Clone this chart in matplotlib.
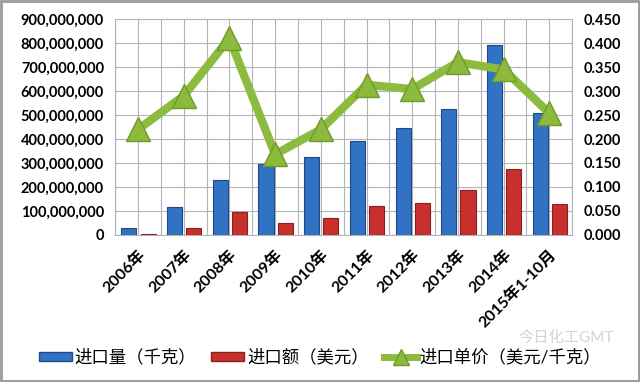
import numpy as np
import matplotlib.pyplot as plt
from matplotlib.ticker import FuncFormatter, MultipleLocator
from matplotlib.lines import Line2D
from matplotlib.patches import Patch

plt.rcParams['font.family'] = ['Lato', 'Noto Sans CJK SC', 'DejaVu Sans']

# === data ===
years = ["2006年", "2007年", "2008年", "2009年", "2010年", "2011年",
         "2012年", "2013年", "2014年", "2015年1-10月"]
qty_kg = [30e6, 118e6, 230e6, 296e6, 327e6, 390e6, 446e6, 525e6, 792e6, 508e6]
value_usd = [3e6, 29e6, 96e6, 50e6, 71e6, 121e6, 133e6, 188e6, 275e6, 129e6]
price = [0.220, 0.290, 0.410, 0.168, 0.220, 0.313, 0.304, 0.360, 0.345, 0.254]

BLUE = "#3272C4"
RED = "#C8302E"
GREEN = "#8CBB3F"

fig = plt.figure(figsize=(6.4, 3.82), dpi=100)
ax = fig.add_axes([0.18, 0.385, 0.714, 0.565])
x = np.arange(len(years))

ax.bar(x - 0.2, qty_kg, width=0.33, color=BLUE, edgecolor="#1E4A85", linewidth=0.8, zorder=3)
ax.bar(x + 0.22, value_usd, width=0.33, color=RED, edgecolor="#8A1F1E", linewidth=0.8, zorder=3)

ax.set_xlim(-0.5, len(years) - 0.5)
ax.set_ylim(0, 900e6)
ax.yaxis.set_major_locator(MultipleLocator(100e6))
ax.yaxis.set_major_formatter(FuncFormatter(lambda v, p: f"{int(v):,}"))
ax.set_xticks(x)
ax.set_xticks(np.arange(-0.5, len(years), 1.0), minor=True)
ax.set_xticklabels(years, rotation=45, ha="right", va="top", rotation_mode="anchor",
                   fontweight="bold", fontsize=11.5)
ax.tick_params(axis="x", pad=9)
ax.tick_params(axis="both", length=0, which="both")
ax.tick_params(axis="y", labelsize=10.5, pad=8)
for lab in ax.get_yticklabels():
    lab.set_fontweight("bold")
ax.grid(True, axis="both", which="major", color="#B4B4B4", linewidth=0.8, zorder=0)
ax.grid(True, axis="x", which="minor", color="#B4B4B4", linewidth=0.8, zorder=0)
for s in ax.spines.values():
    s.set_color("#B4B4B4")
    s.set_linewidth(0.8)

ax2 = ax.twinx()
ax2.plot(x, price, color=GREEN, linewidth=6, marker="^", markersize=17,
         markerfacecolor="#8DBA3C", markeredgecolor="#6E9A2A", markeredgewidth=1, zorder=5)
ax2.set_ylim(0, 0.45)
ax2.yaxis.set_major_locator(MultipleLocator(0.05))
ax2.yaxis.set_major_formatter(FuncFormatter(lambda v, p: f"{v:.3f}"))
ax2.tick_params(axis="y", length=0, labelsize=10.5, pad=8)
for lab in ax2.get_yticklabels():
    lab.set_fontweight("bold")
for s in ax2.spines.values():
    s.set_visible(False)

handles = [
    Patch(facecolor=BLUE, edgecolor="#1E4A85"),
    Patch(facecolor=RED, edgecolor="#8A1F1E"),
    Line2D([0], [0], color=GREEN, linewidth=5, marker="^", markersize=11,
           markerfacecolor="#8DBA3C", markeredgecolor="#6E9A2A"),
]
labels = ["进口量（千克）", "进口额（美元）", "进口单价（美元/千克）"]
fig.legend(handles, labels, loc="center", bbox_to_anchor=(0.5, 0.065), ncol=3,
           frameon=False, fontsize=12.5, handlelength=1.9, handletextpad=0.15,
           columnspacing=0.9, handleheight=0.45)

fig.text(0.885, 0.118, "今日化工GMT", color="#D4D4D4", fontsize=11, ha="center", va="center")

fig.patches.append(plt.Rectangle((0.002, 0.003), 0.996, 0.994, transform=fig.transFigure,
                                 fill=False, edgecolor="#9A9A9A", linewidth=2))

fig.savefig("out.png", dpi=100)
